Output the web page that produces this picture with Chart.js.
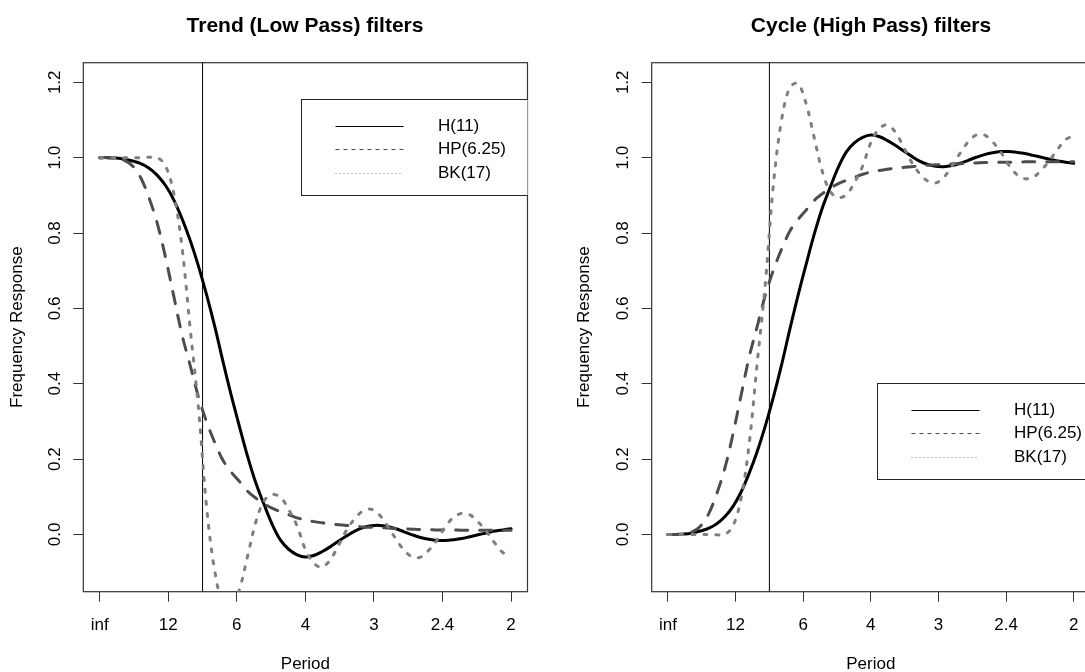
<!DOCTYPE html>
<html>
<head>
<meta charset="utf-8">
<script src="https://cdn.jsdelivr.net/npm/chart.js@4.4.1/dist/chart.umd.min.js"></script>
<style>
  html, body { margin: 0; padding: 0; background: #fff; overflow: hidden; }
  #wrap { position: relative; width: 1085px; height: 672px; overflow: hidden; background: #fff; }
  canvas { position: absolute; top: 0; }
  #trend { left: 0; }
  #cycle { left: 540px; }
</style>
</head>
<body>
<div id="wrap">
  <canvas id="trend" width="610" height="680"></canvas>
  <canvas id="cycle" width="662" height="680"></canvas>
</div>
<script>
const FONT = "'Liberation Sans', Arial, Helvetica, sans-serif";
Chart.defaults.font.family = FONT;
Chart.defaults.color = '#000';

// frequency grid (cycles per period) at steps of 0.01
const freq = [0, 0.01, 0.02, 0.03, 0.04, 0.05, 0.06, 0.07, 0.08, 0.09,
  0.1, 0.11, 0.12, 0.13, 0.14, 0.15, 0.16, 0.17, 0.18, 0.19,
  0.2, 0.21, 0.22, 0.23, 0.24, 0.25, 0.26, 0.27, 0.28, 0.29,
  0.3, 0.31, 0.32, 0.33, 0.34, 0.35, 0.36, 0.37, 0.38, 0.39,
  0.4, 0.41, 0.42, 0.43, 0.44, 0.45, 0.46, 0.47, 0.48, 0.49, 0.5];

// Trend (low pass) panel
const hTrend = [1.000, 1.000, 0.999, 0.996, 0.991, 0.984, 0.972, 0.953, 0.926, 0.888,
  0.838, 0.780, 0.712, 0.635, 0.550, 0.457, 0.368, 0.285, 0.205, 0.135,
  0.078, 0.025, -0.016, -0.040, -0.054, -0.060, -0.056, -0.046, -0.033, -0.018,
  -0.004, 0.009, 0.018, 0.023, 0.024, 0.021, 0.015, 0.007, -0.001, -0.008,
  -0.013, -0.016, -0.016, -0.014, -0.011, -0.006, -0.001, 0.004, 0.009, 0.012, 0.015];
const hpTrend = [1.000, 1.000, 0.998, 0.993, 0.978, 0.946, 0.893, 0.825, 0.735, 0.632,
  0.530, 0.448, 0.365, 0.298, 0.243, 0.196, 0.165, 0.140, 0.114, 0.096,
  0.081, 0.069, 0.060, 0.052, 0.044, 0.038, 0.034, 0.031, 0.028, 0.026,
  0.024, 0.022, 0.020, 0.019, 0.018, 0.017, 0.016, 0.015, 0.014, 0.013,
  0.013, 0.012, 0.012, 0.012, 0.011, 0.011, 0.011, 0.011, 0.011, 0.011, 0.011];
const bkTrend = [1.000, 1.000, 1.000, 1.000, 1.000, 1.000, 1.001, 1.000, 0.978, 0.905,
  0.762, 0.545, 0.335, 0.070, -0.100, -0.185, -0.197, -0.145, -0.055, 0.035,
  0.090, 0.106, 0.098, 0.065, 0.022, -0.040, -0.076, -0.087, -0.068, -0.030,
  0.011, 0.042, 0.062, 0.067, 0.052, 0.022, -0.012, -0.042, -0.060, -0.060,
  -0.042, -0.015, 0.020, 0.045, 0.056, 0.052, 0.033, 0.008, -0.022, -0.048, -0.058];

// Cycle (high pass) panel
const hCycle = [0, 0, 0.001, 0.004, 0.009, 0.016, 0.028, 0.047, 0.074, 0.112,
  0.162, 0.220, 0.288, 0.365, 0.450, 0.543, 0.632, 0.715, 0.795, 0.865,
  0.922, 0.975, 1.016, 1.040, 1.054, 1.060, 1.056, 1.046, 1.033, 1.018,
  1.004, 0.991, 0.982, 0.977, 0.976, 0.979, 0.985, 0.993, 1.001, 1.008,
  1.013, 1.016, 1.016, 1.014, 1.011, 1.006, 1.001, 0.996, 0.991, 0.988, 0.985];
const hpCycle = [0, 0, 0.002, 0.007, 0.022, 0.054, 0.107, 0.175, 0.265, 0.368,
  0.470, 0.552, 0.635, 0.702, 0.757, 0.804, 0.835, 0.860, 0.886, 0.904,
  0.919, 0.931, 0.940, 0.948, 0.956, 0.962, 0.966, 0.969, 0.972, 0.974,
  0.976, 0.978, 0.980, 0.981, 0.982, 0.983, 0.984, 0.985, 0.986, 0.987,
  0.987, 0.988, 0.988, 0.988, 0.989, 0.989, 0.989, 0.989, 0.989, 0.989, 0.989];
const bkCycle = [0, 0, 0, 0, 0, 0, -0.001, 0, 0.022, 0.095,
  0.238, 0.455, 0.665, 0.930, 1.100, 1.185, 1.197, 1.145, 1.055, 0.965,
  0.910, 0.894, 0.902, 0.935, 0.978, 1.040, 1.076, 1.087, 1.068, 1.030,
  0.989, 0.958, 0.938, 0.933, 0.948, 0.978, 1.012, 1.042, 1.060, 1.060,
  1.042, 1.015, 0.980, 0.955, 0.944, 0.948, 0.967, 0.992, 1.022, 1.048, 1.058];

const seriesNames = ['H(11)', 'HP(6.25)', 'BK(17)'];
const periodTicks = [0, 1 / 12, 1 / 6, 1 / 4, 1 / 3, 5 / 12, 1 / 2];
const periodLabels = ['inf', '12', '6', '4', '3', '2.4', '2'];
const responseTicks = [0, 0.2, 0.4, 0.6, 0.8, 1.0, 1.2];
const cutoffFreq = 1 / 8;

const lineStyles = [
  { color: '#000000', dash: [], legendDash: [] },
  { color: '#4d4d4d', dash: [12, 12], legendDash: [4, 4] },
  { color: '#7f7f7f', dash: [3, 9], legendDash: [1, 3] }
];

// plot box + R style legend (clipped to the plot region like xpd = FALSE)
const framePlugin = {
  id: 'frame',
  beforeDatasetsDraw(chart) {
    const { ctx, chartArea: a } = chart;
    ctx.save();
    ctx.strokeStyle = '#333';
    ctx.lineWidth = 1.2;
    ctx.strokeRect(a.left, a.top, a.right - a.left, a.bottom - a.top);
    ctx.restore();
  },
  afterDatasetsDraw(chart, args, opts) {
    const { ctx, chartArea: a, scales } = chart;
    const x0 = Math.round(scales.x.getPixelForValue(opts.at[0])) + 0.5;
    const y0 = Math.round(scales.y.getPixelForValue(opts.at[1])) + 0.5;
    ctx.save();
    ctx.beginPath();
    ctx.rect(a.left, a.top - 1, a.right - a.left, a.bottom - a.top + 2);
    ctx.clip();
    ctx.fillStyle = '#fff';
    ctx.fillRect(x0, y0, 250, 96);
    ctx.strokeStyle = '#222';
    ctx.lineWidth = 1;
    ctx.strokeRect(x0, y0, 250, 96);
    seriesNames.forEach((name, i) => {
      const y = Math.round(y0 + 26.4 + i * 23.3) + 0.5;
      ctx.beginPath();
      ctx.setLineDash(lineStyles[i].legendDash);
      ctx.strokeStyle = lineStyles[i].color;
      ctx.moveTo(x0 + 34, y);
      ctx.lineTo(x0 + 102, y);
      ctx.stroke();
      ctx.setLineDash([]);
      ctx.fillStyle = '#000';
      ctx.font = '17px ' + FONT;
      ctx.textBaseline = 'middle';
      ctx.textAlign = 'left';
      ctx.fillText(name, x0 + 136.5, y);
    });
    ctx.restore();
  }
};

function makeChart(id, title, series, legendAt, yAxisWidth, yTitlePad, rightGap) {
  const datasets = series.map((vals, i) => ({
    label: seriesNames[i],
    data: freq.map((f, k) => ({ x: f, y: vals[k] })),
    borderColor: lineStyles[i].color,
    borderDash: lineStyles[i].dash,
    borderWidth: 3,
    borderCapStyle: 'round',
    borderJoinStyle: 'round',
    pointRadius: 0,
    tension: 0.35,
    clip: 0,
    order: 3 - i
  }));
  datasets.push({
    label: 'cutoff',
    data: [{ x: cutoffFreq, y: -1 }, { x: cutoffFreq, y: 2 }],
    borderColor: '#000',
    borderWidth: 1,
    pointRadius: 0,
    clip: 0,
    order: 10
  });

  const axisGrid = { drawOnChartArea: false, drawTicks: true, tickLength: 10, color: '#333', lineWidth: 1 };

  return new Chart(document.getElementById(id), {
    type: 'line',
    data: { datasets },
    options: {
      responsive: false,
      animation: false,
      events: [],
      layout: { padding: 0 },
      plugins: {
        legend: { display: false },
        tooltip: { enabled: false },
        title: {
          display: true, text: title, color: '#000',
          font: { size: 21, weight: 'bold' },
          padding: { top: 14, bottom: 23.5 }
        },
        frame: { at: legendAt }
      },
      scales: {
        x: {
          type: 'linear', min: -0.02, max: 0.52,
          afterBuildTicks: s => { s.ticks = periodTicks.map(v => ({ value: v })); },
          afterFit: s => { s.height = 88.3; },
          ticks: {
            autoSkip: false, maxRotation: 0, padding: 13, color: '#000',
            font: { size: 17 },
            callback: (v, i) => periodLabels[i]
          },
          grid: axisGrid,
          border: { display: false },
          title: { display: true, text: 'Period', color: '#000', font: { size: 17 }, padding: { top: 0, bottom: 5.5 } }
        },
        y: {
          type: 'linear', min: -0.152, max: 1.252,
          afterBuildTicks: s => { s.ticks = responseTicks.map(v => ({ value: v })); },
          afterFit: s => { s.width = yAxisWidth; },
          ticks: {
            minRotation: 90, maxRotation: 90, crossAlign: 'center', padding: 6.5, color: '#000',
            font: { size: 17 },
            callback: v => v.toFixed(1)
          },
          grid: axisGrid,
          border: { display: false },
          title: { display: true, text: 'Frequency Response', color: '#000', font: { size: 17 }, padding: { top: yTitlePad, bottom: 0 } }
        },
        // empty right-hand margin so the title stays centred over the plot box
        gap: {
          type: 'linear', position: 'right', min: 0, max: 1,
          afterFit: s => { s.width = rightGap; },
          ticks: { display: false },
          grid: { display: false },
          border: { display: false }
        }
      }
    },
    plugins: [framePlugin]
  });
}

makeChart('trend', 'Trend (Low Pass) filters', [hTrend, hpTrend, bkTrend], [0.245, 1.155], 83.3, 7, 82.5);
makeChart('cycle', 'Cycle (High Pass) filters', [hCycle, hpCycle, bkCycle], [0.257, 0.403], 111.7, 34.6, 112);
</script>
</body>
</html>
